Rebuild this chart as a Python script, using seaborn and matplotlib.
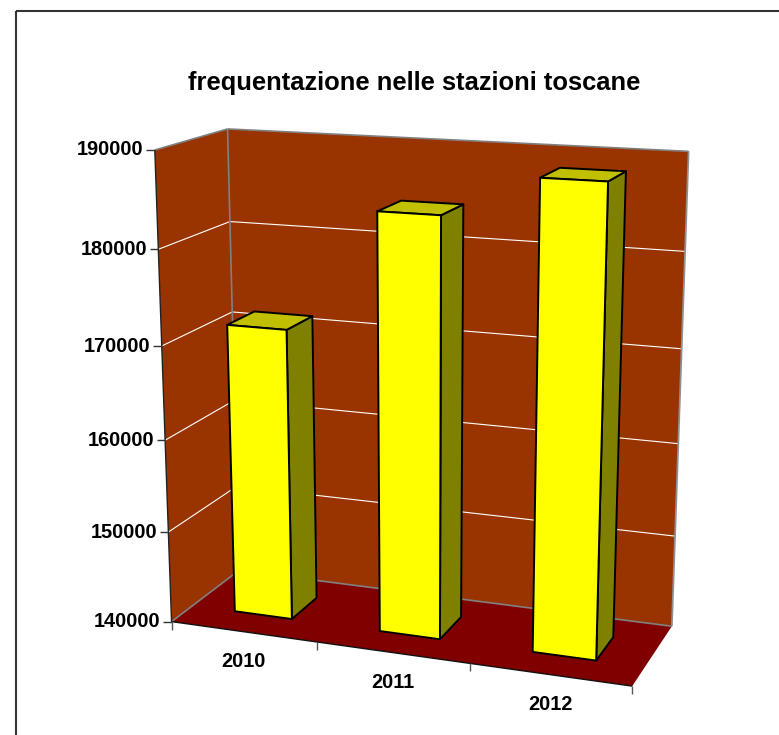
#!/usr/bin/env python3
import numpy as np
import matplotlib
matplotlib.use("Agg")
import matplotlib.pyplot as plt
from matplotlib.patches import Polygon, Rectangle
from matplotlib.transforms import Transform
import seaborn as sns

# values
years = ['2010', '2011', '2012']
visitors = [171500, 184300, 188500]
value_ticks = [140000, 150000, 160000, 170000, 180000, 190000]
title = "frequentazione nelle stazioni toscane"

FLOOR, CEIL = value_ticks[0], value_ticks[-1]
X0, X1 = -0.5, len(years) - 0.5
BAR_D0, BAR_D1 = 0.3, 0.7

# corners of the chart box as they appear on the page: (x, depth, value) -> pixels
box_3d = [(X0, 0, FLOOR), (X0, 0, CEIL), (X0, 1, CEIL), (X0, 1, FLOOR),
          (X1, 1, CEIL), (X1, 1, FLOOR), (X1, 0, FLOOR)]
box_px = [(171, 622), (155.3, 150), (227, 129), (239.5, 570),
          (688.7, 151.3), (671.7, 626.7), (632.3, 685.7)]


def norm(x, d, v):
    return (np.asarray(x, float) - X0) / (X1 - X0), np.asarray(d, float) * np.ones_like(np.asarray(x, float)), \
        (np.asarray(v, float) - FLOOR) / (CEIL - FLOOR)


# fit the perspective camera
rows = []
for (x, d, v), (px, py) in zip(box_3d, box_px):
    a, b, c = [float(t) for t in norm(x, d, v)]
    rows.append([a, b, c, 1, 0, 0, 0, 0, -px * a, -px * b, -px * c, -px])
    rows.append([0, 0, 0, 0, a, b, c, 1, -py * a, -py * b, -py * c, -py])
cam = np.linalg.svd(np.array(rows))[2][-1].reshape(3, 4)


def proj(x, d, v):
    a, b, c = norm(x, d, v)
    pts = np.stack([a, b, c, np.ones_like(a)], axis=-1) @ cam.T
    return pts[..., :2] / pts[..., 2:]


class FacePlane(Transform):
    # puts seaborn's flat bars (x, value) on a plane of constant depth
    input_dims = 2
    output_dims = 2
    is_separable = False

    def __init__(self, plane):
        super().__init__()
        self.plane = plane

    def transform_non_affine(self, values):
        values = np.asarray(values, float)
        return proj(values[:, 0], self.plane, values[:, 1])


sns.set_theme(style="white")
plt.rcParams['font.family'] = ['Liberation Sans', 'DejaVu Sans']

fig = plt.figure(figsize=(7.79, 7.35), dpi=100)
ax = fig.add_axes([0, 0, 1, 1])

g = sns.barplot(x=years, y=visitors, ax=ax, width=0.4, color='#FFFF00', saturation=1,
                edgecolor='black', linewidth=1.4, zorder=5)
bars = list(g.patches)

ax.set_xlim(0, 779)
ax.set_ylim(735, 0)
ax.set_axis_off()


def poly(points, color, edge='none', lw=0, z=1):
    ax.add_patch(Polygon(np.array(points), closed=True, facecolor=color, edgecolor=edge,
                         linewidth=lw, zorder=z, joinstyle='round', clip_on=False))


def line(a, b, color, lw, z=2):
    ax.plot([a[0], b[0]], [a[1], b[1]], color=color, lw=lw, zorder=z, solid_capstyle='butt', clip_on=False)


# outer frame, runs off the page on the right and at the bottom
ax.add_patch(Rectangle((15.7, 10.7), 900, 900, fill=False, edgecolor='#333333', lw=1.5, clip_on=False))

# walls and floor
poly([proj(X0, 0, FLOOR), proj(X0, 0, CEIL), proj(X0, 1, CEIL), proj(X0, 1, FLOOR)], '#993300')
poly([proj(X0, 1, FLOOR), proj(X0, 1, CEIL), proj(X1, 1, CEIL), proj(X1, 1, FLOOR)], '#993300')
poly([proj(X0, 0, FLOOR), proj(X0, 1, FLOOR), proj(X1, 1, FLOOR), proj(X1, 0, FLOOR)], '#800000')

for v in value_ticks[1:-1]:
    line(proj(X0, 0, v), proj(X0, 1, v), 'white', 0.8)
    line(proj(X0, 1, v), proj(X1, 1, v), 'white', 0.8)

grey = '#808080'
line(proj(X0, 0, CEIL), proj(X0, 1, CEIL), grey, 1.2)
line(proj(X0, 1, CEIL), proj(X1, 1, CEIL), grey, 1.2)
line(proj(X0, 1, CEIL), proj(X0, 1, FLOOR), grey, 1.2)
line(proj(X1, 1, CEIL), proj(X1, 1, FLOOR), '#909090', 1.3)
line(proj(X0, 1, FLOOR), proj(X1, 1, FLOOR), grey, 1.2)
line(proj(X0, 0, FLOOR), proj(X0, 1, FLOOR), grey, 1.2)
line(proj(X0, 0, FLOOR), proj(X0, 0, CEIL), '#222222', 1.0, 3)
line(proj(X0, 0, FLOOR), proj(X1, 0, FLOOR), '#111111', 1.0, 3)

# value axis
for v in value_ticks:
    p = proj(X0, 0, v)
    line(p - [8.5, 0], p, '#333333', 1.0, 3)
    ax.text(p[0] - 11, p[1] + 0, str(v), ha='right', va='center', fontsize=14.4,
            fontweight='bold', color='black')

# category axis
for i in range(len(years) + 1):
    p = proj(X0 + i, 0, FLOOR)
    line(p, p + [0, 8], '#555555', 1.0, 3)
for i, y in enumerate(years):
    p = proj(i, 0, FLOOR)
    ax.text(p[0], p[1] + 30, y, ha='center', va='center', fontsize=14.4,
            fontweight='bold', color='black')

# bars: front face is seaborn's rectangle, sides and tops follow its geometry
for b, val in zip(bars, visitors):
    b.set_y(FLOOR)
    b.set_height(val - FLOOR)
    b.set_transform(FacePlane(BAR_D0) + ax.transData)
    b.set_clip_on(False)
    l, r = b.get_x(), b.get_x() + b.get_width()
    poly([proj(r, BAR_D0, FLOOR), proj(r, BAR_D1, FLOOR), proj(r, BAR_D1, val), proj(r, BAR_D0, val)],
         '#808000', 'black', 1.4, 4)
    poly([proj(l, BAR_D0, val), proj(l, BAR_D1, val), proj(r, BAR_D1, val), proj(r, BAR_D0, val)],
         '#C0C000', 'black', 1.4, 4)

ax.text(414, 83, title, ha='center', va='center', fontsize=18.4, fontweight='bold', color='black')

fig.savefig('out.png', dpi=100)
